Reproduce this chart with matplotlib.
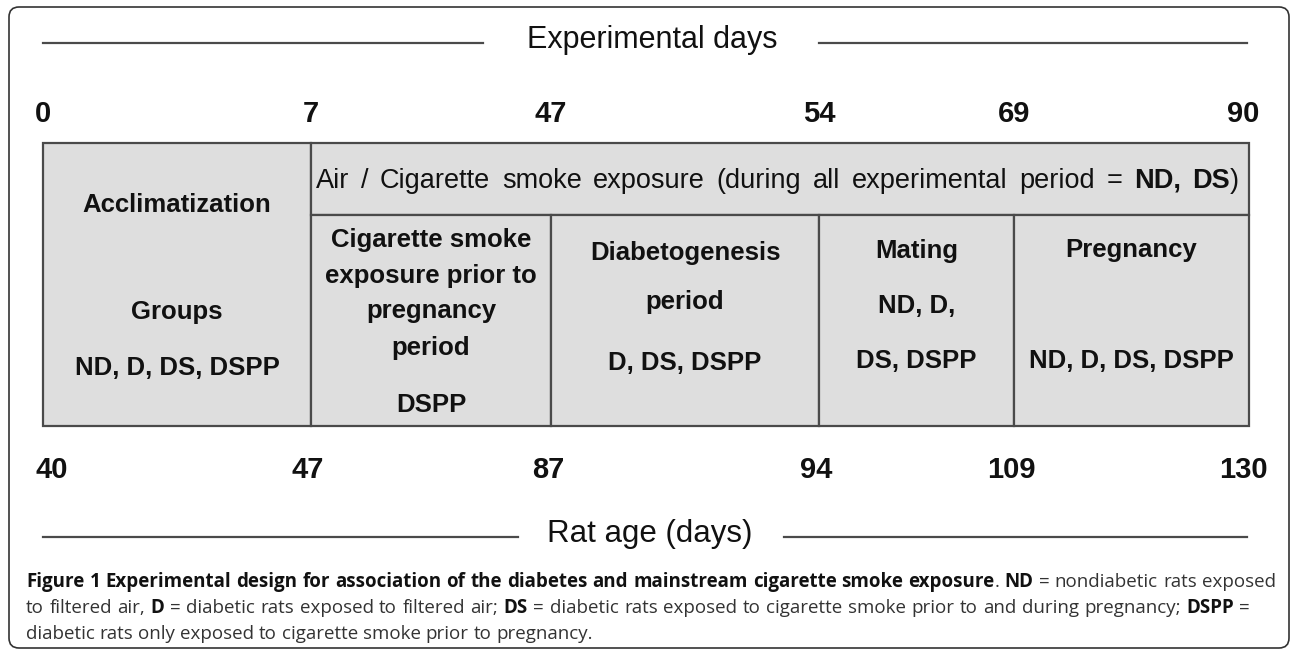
import matplotlib
matplotlib.use("Agg")
import matplotlib.pyplot as plt
from matplotlib.patches import FancyBboxPatch, Rectangle

W, H = 1292, 651

# timeline labels
exp_days = ["0", "7", "47", "54", "69", "90"]
rat_age = ["40", "47", "87", "94", "109", "130"]

# cell texts
acclim = ["Acclimatization", "Groups", "ND, D, DS, DSPP"]
periods = [
    ["Cigarette smoke", "exposure prior to", "pregnancy", "period", "DSPP"],
    ["Diabetogenesis", "period", "D, DS, DSPP"],
    ["Mating", "ND, D,", "DS, DSPP"],
    ["Pregnancy", "ND, D, DS, DSPP"],
]
exposure_runs = [("Air / Cigarette smoke exposure (during all experimental period = ", False),
                 ("ND, DS", True), (")", False)]

caption = [
    [("Figure 1 Experimental design for association of the diabetes and mainstream "
      "cigarette smoke exposure", True), (". ", False), ("ND", True),
     (" = nondiabetic rats exposed", False)],
    [("to filtered air, ", False), ("D", True), (" = diabetic rats exposed to filtered air; ", False),
     ("DS", True), (" = diabetic rats exposed to cigarette smoke prior to and during pregnancy; ", False),
     ("DSPP", True), (" =", False)],
    [("diabetic rats only exposed to cigarette smoke prior to pregnancy.", False)],
]

# layout (pixels)
col_x = [43, 311, 551, 819, 1014, 1249]
box_top, row_split, box_bot = 143, 215, 426
acclim_y = [212, 319, 375]
period_y = [[247, 283, 318, 355, 412], [260, 309, 370], [258, 313, 368], [257, 368]]

DIAG = "Liberation Sans"
CAP = "Open Sans"
INK = "#111111"
EDGE = "#4a4a4a"

fig = plt.figure(figsize=(W / 100, H / 100), dpi=100)
ax = fig.add_axes([0, 0, 1, 1])
ax.set_xlim(0, W)
ax.set_ylim(H, 0)
ax.axis("off")
renderer = fig.canvas.get_renderer()


def text_w(s, **kw):
    t = ax.text(0, 0, s, **kw)
    w = t.get_window_extent(renderer).width
    t.remove()
    return w


def split_words(runs):
    words, cur = [], []
    for txt, bold in runs:
        for ch in txt:
            if ch == " ":
                if cur:
                    words.append(cur)
                    cur = []
                continue
            if cur and cur[-1][1] == bold:
                cur[-1] = (cur[-1][0] + ch, bold)
            else:
                cur.append((ch, bold))
    if cur:
        words.append(cur)
    return words


def measure(runs, size, family):
    words = split_words(runs)
    kw = dict(fontsize=size, family=family)
    sp = text_w("n n", **kw) - text_w("nn", **kw)
    widths = [[text_w(s, fontweight="bold" if b else "normal", **kw) for s, b in wd] for wd in words]
    return words, widths, sp


def natural_width(runs, size, family):
    words, widths, sp = measure(runs, size, family)
    return sum(sum(w) for w in widths) + sp * (len(words) - 1)


def place_runs(runs, x0, y, size, family, color=INK, x1=None, bold_color=None):
    words, widths, sp = measure(runs, size, family)
    total = sum(sum(w) for w in widths)
    gap = sp
    if x1 is not None and len(words) > 1:
        gap = (x1 - x0 - total) / (len(words) - 1)
    x = x0
    for wd, ws in zip(words, widths):
        for (s, b), w in zip(wd, ws):
            ax.text(x, y, s, ha="left", va="baseline", fontsize=size, family=family,
                    fontweight="bold" if b else "normal",
                    color=(bold_color or color) if b else color)
            x += w
        x += gap


# outer rounded frame
ax.add_patch(FancyBboxPatch((9, 7), 1280, 641, boxstyle="round,pad=0,rounding_size=10",
                            fc="white", ec="#333333", lw=1.2))

# header lines
ax.plot([43, 483], [43, 43], color=EDGE, lw=1.6)
ax.plot([819, 1247], [43, 43], color=EDGE, lw=1.6)
ax.text(652, 48, "Experimental days", ha="center", va="baseline", fontsize=22, family=DIAG, color=INK)
ax.plot([43, 518], [537, 537], color=EDGE, lw=1.6)
ax.plot([784, 1247], [537, 537], color=EDGE, lw=1.6)
ax.text(650, 542, "Rat age (days)", ha="center", va="baseline", fontsize=22.5, family=DIAG, color=INK)

# day / age numbers
for i, (d, a) in enumerate(zip(exp_days, rat_age)):
    ha = "left" if i == 0 else ("right" if i == len(exp_days) - 1 else "center")
    xd = {0: 35, len(exp_days) - 1: 1259}.get(i, col_x[i])
    xa = {0: 35, len(exp_days) - 1: 1268}.get(i, col_x[i] - 3)
    ax.text(xd, 122, d, ha=ha, va="baseline", fontsize=21, fontweight="bold", family=DIAG, color=INK)
    ax.text(xa, 478, a, ha=ha, va="baseline", fontsize=21, fontweight="bold", family=DIAG, color=INK)

# boxes
FILL = "#dedede"
ax.add_patch(Rectangle((col_x[0], box_top), col_x[1] - col_x[0], box_bot - box_top,
                       fc=FILL, ec=EDGE, lw=1.6))
ax.add_patch(Rectangle((col_x[1], box_top), col_x[-1] - col_x[1], row_split - box_top,
                       fc=FILL, ec=EDGE, lw=1.6))
for i in range(1, len(col_x) - 1):
    ax.add_patch(Rectangle((col_x[i], row_split), col_x[i + 1] - col_x[i], box_bot - row_split,
                           fc=FILL, ec=EDGE, lw=1.6))

cx = (col_x[0] + col_x[1]) / 2
for s, y in zip(acclim, acclim_y):
    ax.text(cx, y, s, ha="center", va="baseline", fontsize=18.5, fontweight="bold", family=DIAG, color=INK)

for i, (lines, ys) in enumerate(zip(periods, period_y)):
    cx = (col_x[i + 1] + col_x[i + 2]) / 2
    for s, y in zip(lines, ys):
        ax.text(cx, y, s, ha="center", va="baseline", fontsize=18.5, fontweight="bold",
                family=DIAG, color=INK)

place_runs(exposure_runs, 316, 188, 19.5, DIAG, x1=1239)

# caption, justified; size fitted so the first line sets with normal spacing
cap_size = 13 * (1250 - 12) / natural_width(caption[0], 13, CAP)
cap_y = [587, 613, 639]
for k, (runs, y) in enumerate(zip(caption, cap_y)):
    last = k == len(caption) - 1
    place_runs(runs, 26, y, cap_size, CAP, color="#333333", bold_color="#111111",
               x1=None if last else (1276 if k == 0 else 1250))

fig.savefig("out.png", dpi=100)
